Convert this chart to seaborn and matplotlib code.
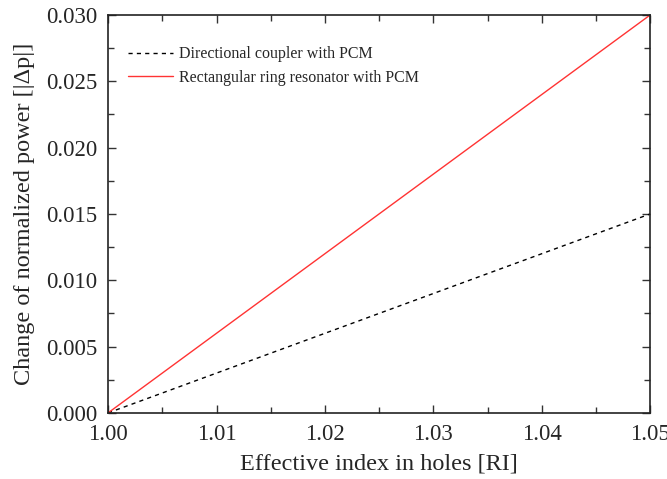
import matplotlib
matplotlib.use("Agg")
import matplotlib.pyplot as plt
import seaborn as sns
import pandas as pd
from matplotlib.ticker import AutoMinorLocator

# Data
ri = [1.00, 1.01, 1.02, 1.03, 1.04, 1.05]
coupler = [0.000, 0.003, 0.006, 0.009, 0.012, 0.015]
ring = [0.000, 0.006, 0.012, 0.018, 0.024, 0.030]

sns.set_style("ticks")
plt.rcParams["font.family"] = ["Liberation Serif", "DejaVu Serif"]

df = pd.DataFrame({"ri": ri, "coupler": coupler, "ring": ring})

fig = plt.figure(figsize=(6.67, 4.79), dpi=100)
ax = fig.add_axes([0.162, 0.138, 0.813, 0.831])

sns.lineplot(data=df, x="ri", y="coupler", ax=ax, color="black", lw=1,
             linestyle=(0, (3, 3)), label="Directional coupler with PCM")
sns.lineplot(data=df, x="ri", y="ring", ax=ax, color="#ff3333", lw=1,
             label="Rectangular ring resonator with PCM")

ax.set_xlim(1.00, 1.05)
ax.set_ylim(0, 0.030)
ax.set_xticks(ri)
ax.set_xticklabels(["1.00", "1.01", "1.02", "1.03", "1.04", "1.05"])
ax.set_yticks([0, 0.005, 0.010, 0.015, 0.020, 0.025, 0.030])
ax.set_yticklabels(["0.000", "0.005", "0.010", "0.015", "0.020", "0.025", "0.030"])
ax.xaxis.set_minor_locator(AutoMinorLocator(2))
ax.yaxis.set_minor_locator(AutoMinorLocator(2))
ax.tick_params(which="both", direction="in", top=True, right=True, labelsize=16.5,
               width=1, color="#333333", pad=8)
ax.tick_params(which="major", length=6)
ax.tick_params(which="minor", length=4)
for s in ax.spines.values():
    s.set_linewidth(1.2)
    s.set_color("#222222")

ax.set_xlabel("Effective index in holes [RI]", fontsize=17.5, labelpad=6)
ax.set_ylabel("Change of normalized power [|Δp|]", fontsize=17.5, labelpad=8)

ax.legend(loc="upper left", bbox_to_anchor=(0.025, 0.937), frameon=False,
          fontsize=11.5, handlelength=2.8, handletextpad=0.4, borderaxespad=0,
          labelspacing=0.45)

fig.savefig("out.png", dpi=100)
